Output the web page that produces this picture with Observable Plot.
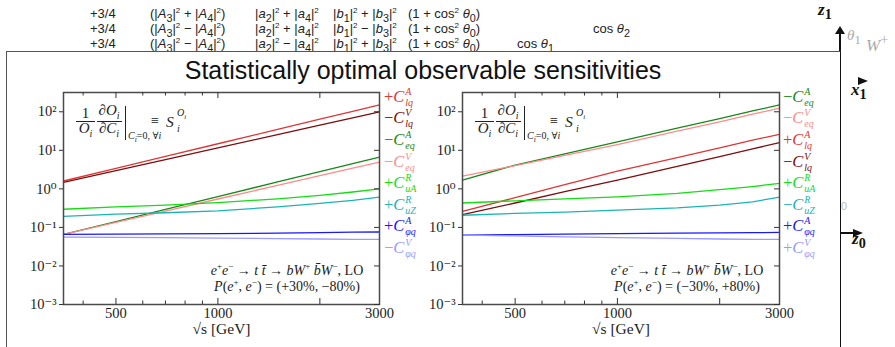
<!DOCTYPE html>
<html>
<head>
<meta charset="utf-8">
<script src="https://cdn.jsdelivr.net/npm/d3@7"></script>
<script src="https://cdn.jsdelivr.net/npm/@observablehq/plot@0.6"></script>
<style>
  html, body { margin: 0; padding: 0; background: #fff; }
  #root { position: relative; width: 895px; height: 347px; overflow: hidden; background: #fff; }
  .abs { position: absolute; }
  .serif { font-family: "Liberation Serif", "DejaVu Serif", serif; }
  .bg { font-family: "Liberation Sans", "DejaVu Sans", sans-serif; font-size: 13px; color: #222; white-space: nowrap; }
  .box { position: absolute; left: 6px; top: 51px; width: 833px; height: 310px; background: #fff;
         border-left: 1px solid #555; border-top: 1px solid #555; border-right: 1.5px solid #111; }
  .title { position: absolute; left: 6px; width: 834px; top: 56px; text-align: center;
           font-family: "Liberation Sans", "DejaVu Sans", sans-serif; font-size: 25px; color: #111; }
  .legend { position: absolute; font-family: "Liberation Serif", "DejaVu Serif", serif; font-size: 16.5px; }
  .legend .item { height: 21.6px; display: flex; align-items: center; white-space: nowrap; }
  .legend .ss { display: inline-flex; flex-direction: column; font-size: 10px; line-height: 11px; margin-left: 1px; font-style: italic; }
  .fp { position: absolute; font-family: "Liberation Serif", "DejaVu Serif", serif; color: #222; white-space: nowrap; line-height: 1; }
  .annot { position: absolute; font-family: "Liberation Serif", "DejaVu Serif", serif; font-size: 14px; color: #222; text-align: center; line-height: 16px; white-space: nowrap; }
  .annot sup { font-size: 9px; line-height: 0; }
</style>
</head>
<body>
<div id="root"></div>
<script>
// ---------------- data ----------------
const sqrtS = [350, 500, 700, 1000, 1500, 2000, 2500, 3000];

// Panel 1: P(e+,e-) = (+30%, -80%)
const p1_ClqA   = [1.6, 3.40, 6.95, 14.8, 34.9, 64.1, 103, 151];
const p1_ClqV   = [1.47, 2.96, 5.74, 11.6, 25.6, 45.1, 69.9, 100];
const p1_CeqA   = [0.066, 0.142, 0.293, 0.63, 1.51, 2.79, 4.52, 6.7];
const p1_CeqV   = [0.066, 0.135, 0.266, 0.546, 1.23, 2.19, 3.43, 4.95];
const p1_CuAR   = [0.296, 0.34, 0.38, 0.44, 0.55, 0.68, 0.83, 1.0];
const p1_CuZR   = [0.194, 0.22, 0.24, 0.27, 0.34, 0.42, 0.50, 0.61];
const p1_CphiqA = [0.066, 0.067, 0.068, 0.069, 0.071, 0.073, 0.075, 0.076];
const p1_CphiqV = [0.056, 0.055, 0.054, 0.053, 0.051, 0.050, 0.049, 0.049];

// Panel 2: P(e+,e-) = (-30%, +80%)
const p2_CeqA   = [1.69, 4.14, 8.1, 16.5, 37.4, 66, 105, 151];
const p2_CeqV   = [2.14, 4.0, 7.4, 14.0, 31.3, 55, 86.5, 124];
const p2_ClqA   = [0.26, 0.59, 1.28, 2.9, 6.5, 11.6, 18.4, 26];
const p2_ClqV   = [0.215, 0.43, 0.85, 1.69, 3.83, 6.9, 10.9, 15.8];
const p2_CuAR   = [0.43, 0.49, 0.55, 0.62, 0.76, 0.96, 1.15, 1.38];
const p2_CuZR   = [0.207, 0.23, 0.25, 0.28, 0.32, 0.38, 0.46, 0.61];
const p2_CphiqA = [0.063, 0.065, 0.067, 0.069, 0.071, 0.072, 0.073, 0.074];
const p2_CphiqV = [0.063, 0.060, 0.057, 0.054, 0.052, 0.050, 0.049, 0.049];

// operator names / legend parts
const opKeys  = ["ClqA", "ClqV", "CeqA", "CeqV", "CuAR", "CuZR", "CphiqA", "CphiqV"];
const opSup   = {ClqA: "A", ClqV: "V", CeqA: "A", CeqV: "V", CuAR: "R", CuZR: "R", CphiqA: "A", CphiqV: "V"};
const opSub   = {ClqA: "lq", ClqV: "lq", CeqA: "eq", CeqV: "eq", CuAR: "uA", CuZR: "uZ", CphiqA: "φq", CphiqV: "φq"};
const opColor = {ClqA: "#df3535", ClqV: "#7d0c0c", CeqA: "#17881a", CeqV: "#ff8a8a",
                 CuAR: "#14dd14", CuZR: "#1db4b4", CphiqA: "#1818ff", CphiqV: "#9a9aff"};

const p1Order = ["ClqA", "ClqV", "CeqA", "CeqV", "CuAR", "CuZR", "CphiqA", "CphiqV"];
const p1Signs = ["+", "−", "−", "−", "+", "+", "+", "−"];
const p2Order = ["CeqA", "CeqV", "ClqA", "ClqV", "CuAR", "CuZR", "CphiqA", "CphiqV"];
const p2Signs = ["−", "−", "+", "−", "+", "−", "+", "+"];

const yTicks = [1e-3, 1e-2, 1e-1, 1, 10, 100];
const yTickLabels = ["10⁻³", "10⁻²", "10⁻¹", "10⁰", "10¹", "10²"];
const xLabelTicks = [500, 1000, 3000];
const xMajorTicks = [500, 1000, 2000];
const xMinorTicks = [400, 600, 700, 800, 900];
const xTitle = "√s [GeV]";
const chartTitle = "Statistically optimal observable sensitivities";
const p1Polarization = "(+30%, −80%)";
const p2Polarization = "(−30%, +80%)";

const p1Series = {ClqA: p1_ClqA, ClqV: p1_ClqV, CeqA: p1_CeqA, CeqV: p1_CeqV, CuAR: p1_CuAR, CuZR: p1_CuZR, CphiqA: p1_CphiqA, CphiqV: p1_CphiqV};
const p2Series = {ClqA: p2_ClqA, ClqV: p2_ClqV, CeqA: p2_CeqA, CeqV: p2_CeqV, CuAR: p2_CuAR, CuZR: p2_CuZR, CphiqA: p2_CphiqA, CphiqV: p2_CphiqV};

// ---------------- page ----------------
const root = document.getElementById("root");
function el(tag, cls, html, style) {
  const e = document.createElement(tag);
  if (cls) e.className = cls;
  if (html != null) e.innerHTML = html;
  if (style) Object.assign(e.style, style);
  root.appendChild(e);
  return e;
}

// background slide content (behind the overlay box)
const S2 = "<sup style='font-size:8px'>2</sup>";
const rows = [
  {y: 6,  cols: ["+3/4", `(|<i>A</i><sub>3</sub>|${S2} + |<i>A</i><sub>4</sub>|${S2})`, `|<i>a</i><sub>2</sub>|${S2} + |<i>a</i><sub>4</sub>|${S2}`, `|<i>b</i><sub>1</sub>|${S2} + |<i>b</i><sub>3</sub>|${S2}`, `(1 + cos${S2} <i>θ</i><sub>0</sub>)`]},
  {y: 21, cols: ["+3/4", `(|<i>A</i><sub>3</sub>|${S2} − |<i>A</i><sub>4</sub>|${S2})`, `|<i>a</i><sub>2</sub>|${S2} + |<i>a</i><sub>4</sub>|${S2}`, `|<i>b</i><sub>1</sub>|${S2} − |<i>b</i><sub>3</sub>|${S2}`, `(1 + cos${S2} <i>θ</i><sub>0</sub>)`], extra: {x: 593, t: "cos <i>θ</i><sub>2</sub>"}},
  {y: 36, cols: ["+3/4", `(|<i>A</i><sub>3</sub>|${S2} − |<i>A</i><sub>4</sub>|${S2})`, `|<i>a</i><sub>2</sub>|${S2} − |<i>a</i><sub>4</sub>|${S2}`, `|<i>b</i><sub>1</sub>|${S2} + |<i>b</i><sub>3</sub>|${S2}`, `(1 + cos${S2} <i>θ</i><sub>0</sub>)`], extra: {x: 517, t: "cos <i>θ</i><sub>1</sub>"}}
];
const colX = [90, 150, 255, 333, 408];
for (const r of rows) {
  r.cols.forEach((t, i) => el("div", "abs bg", t, {left: colX[i] + "px", top: r.y + "px"}));
  if (r.extra) el("div", "abs bg", r.extra.t, {left: r.extra.x + "px", top: r.y + "px"});
}
// right-hand diagram pieces
el("div", "abs serif", "<b><i>z</i><sub>1</sub></b>", {left: "818px", top: "0px", fontSize: "17px", color: "#111"});
el("div", "abs", "", {left: "839px", top: "32px", width: "1.5px", height: "20px", background: "#111"});
el("div", "abs", "", {left: "835px", top: "26px", width: 0, height: 0, borderLeft: "5px solid transparent", borderRight: "5px solid transparent", borderBottom: "8px solid #111"});
el("div", "abs serif", "<i>θ</i><sub>1</sub>", {left: "847px", top: "27px", fontSize: "15px", color: "#aaa"});
el("div", "abs serif", "<i>W</i><sup>+</sup>", {left: "866px", top: "31px", fontSize: "17px", color: "#aaa"});

// overlay box
el("div", "box");
el("div", "title", chartTitle);
el("div", "abs serif", "<b><i>x</i><sub>1</sub></b>", {left: "851px", top: "80px", fontSize: "17px", color: "#111"});
el("div", "abs", "", {left: "858px", top: "77px", width: 0, height: 0, borderTop: "4px solid transparent", borderBottom: "4px solid transparent", borderLeft: "10px solid #111"});
el("div", "abs", "0", {left: "841px", top: "200px", font: "11px 'Liberation Sans', sans-serif", color: "#bbb"});
el("div", "abs", "", {left: "841px", top: "232px", width: "14px", height: "1.5px", background: "#111"});
el("div", "abs", "", {left: "853px", top: "228.5px", width: 0, height: 0, borderTop: "4.5px solid transparent", borderBottom: "4.5px solid transparent", borderLeft: "10px solid #111"});
el("div", "abs serif", "<b><i>z</i><sub>0</sub></b>", {left: "852px", top: "229px", fontSize: "17px", color: "#111"});

// ---------------- charts ----------------
const H = 267, MT = 12, MB = 43;
const serifStack = "'Liberation Serif', 'DejaVu Serif', serif";
function makePanel(series, left, width, marginLeft) {
  const rowsData = [];
  for (const k of opKeys) series[k].forEach((v, i) => rowsData.push({key: k, s: sqrtS[i], v}));
  const plotW = width - marginLeft - 1;
  const plotH = H - MT - MB;
  const fmt = d => yTickLabels[yTicks.indexOf(d)];
  const chart = Plot.plot({
    width, height: H, marginTop: MT, marginBottom: MB, marginLeft, marginRight: 1,
    x: {type: "log", domain: [350, 3000]},
    y: {type: "log", domain: [1e-3, Math.pow(10, 2.5)]},
    color: {domain: opKeys, range: opKeys.map(k => opColor[k])},
    style: {fontFamily: serifStack, fontSize: "14.5px", color: "#222", background: "transparent", overflow: "visible"},
    marks: [
      Plot.line(rowsData, {x: "s", y: "v", z: "key", stroke: "key", strokeWidth: 1.3}),
      Plot.frame({stroke: "#4a4a4a", strokeWidth: 1.5}),
      Plot.axisY({ticks: yTicks, tickFormat: fmt, tickSize: 4, tickPadding: 3, label: null, stroke: "#333"}),
      Plot.axisX({ticks: xLabelTicks, tickFormat: d => String(d), tickSize: 0, tickPadding: 3, label: null}),
      Plot.tickY(yTicks, {y: d => d, insetLeft: plotW - 5, stroke: "#333"}),
      Plot.tickX(xMajorTicks, {x: d => d, insetTop: plotH - 6, stroke: "#333"}),
      Plot.tickX(xMajorTicks, {x: d => d, insetBottom: plotH - 6, stroke: "#333"}),
      Plot.tickX(xMinorTicks, {x: d => d, insetTop: plotH - 3.5, stroke: "#333"}),
      Plot.tickX(xMinorTicks, {x: d => d, insetBottom: plotH - 3.5, stroke: "#333"}),
      Plot.text([xTitle], {text: d => d, frameAnchor: "bottom", dy: 29, fontSize: 15.5})
    ]
  });
  chart.style.position = "absolute";
  chart.style.left = left + "px";
  chart.style.top = "80px";
  root.appendChild(chart);
  return {frameLeft: left + marginLeft, frameRight: left + width - 1, frameTop: 80 + MT, frameBottom: 80 + H - MB};
}

function addLegend(x, order, signs) {
  const lg = el("div", "legend", null, {left: x + "px", top: "86px"});
  order.forEach((k, i) => {
    const it = document.createElement("div");
    it.className = "item";
    it.style.color = opColor[k];
    it.innerHTML = `<span>${signs[i]}</span><i>C</i><span class="ss"><span>${opSup[k]}</span><span>${opSub[k]}</span></span>`;
    lg.appendChild(it);
  });
}

// place a piece of the formula: x = left edge (or centre if center), y = vertical centre
function piece(html, x, y, size, center) {
  return el("div", "fp", html, {left: x + "px", top: y + "px", fontSize: size + "px",
    transform: center ? "translate(-50%,-50%)" : "translate(0,-50%)"});
}
function addFormula(f) {
  const X = f.frameLeft, Y = f.frameTop;
  piece("1", X + 22.5, Y + 21, 15, true);
  el("div", "abs", "", {left: (X + 13) + "px", top: (Y + 29) + "px", width: "19px", height: "1px", background: "#222"});
  piece("<i>O</i><sub style='font-size:10px'><i>i</i></sub>", X + 22.5, Y + 38, 15, true);
  piece("∂<i>O</i><sub style='font-size:10px'><i>i</i></sub>", X + 46, Y + 20, 15, true);
  el("div", "abs", "", {left: (X + 34) + "px", top: (Y + 29) + "px", width: "25px", height: "1px", background: "#222"});
  piece("∂<i>C</i><sub style='font-size:10px'><i>i</i></sub>", X + 46, Y + 38, 15, true);
  el("div", "abs", "", {left: (X + 61.5) + "px", top: (Y + 14) + "px", width: "1px", height: "34px", background: "#222"});
  piece("<i>C<sub style='font-size:7.5px'>i</sub></i>=0, ∀<i>i</i>", X + 65, Y + 45, 10, false);
  piece("≡", X + 88, Y + 29, 14, false);
  piece("<i>S</i>", X + 103, Y + 30, 15.5, false);
  piece("<i>O<sub style='font-size:7px'>i</sub></i>", X + 114, Y + 22, 10, false);
  piece("<i>i</i>", X + 114, Y + 37, 10, false);
}

function addProcess(f, pol) {
  el("div", "annot", `<i>e</i><sup>+</sup><i>e</i><sup>−</sup> → <i>t t̄</i> → <i>bW</i><sup>+</sup> <i>b̄W</i><sup>−</sup>, LO<br><i>P</i>(<i>e</i><sup>+</sup>, <i>e</i><sup>−</sup>) = ${pol}`,
    {left: (f.frameRight - 178) + "px", width: "172px", top: (f.frameBottom - 41) + "px"});
}

const f1 = makePanel(p1Series, 0, 380, 63);
const f2 = makePanel(p2Series, 420, 360, 42);
addLegend(f1.frameRight + 5, p1Order, p1Signs);
addLegend(f2.frameRight + 4, p2Order, p2Signs);
addFormula(f1);
addFormula(f2);
addProcess(f1, p1Polarization);
addProcess(f2, p2Polarization);
</script>
</body>
</html>
